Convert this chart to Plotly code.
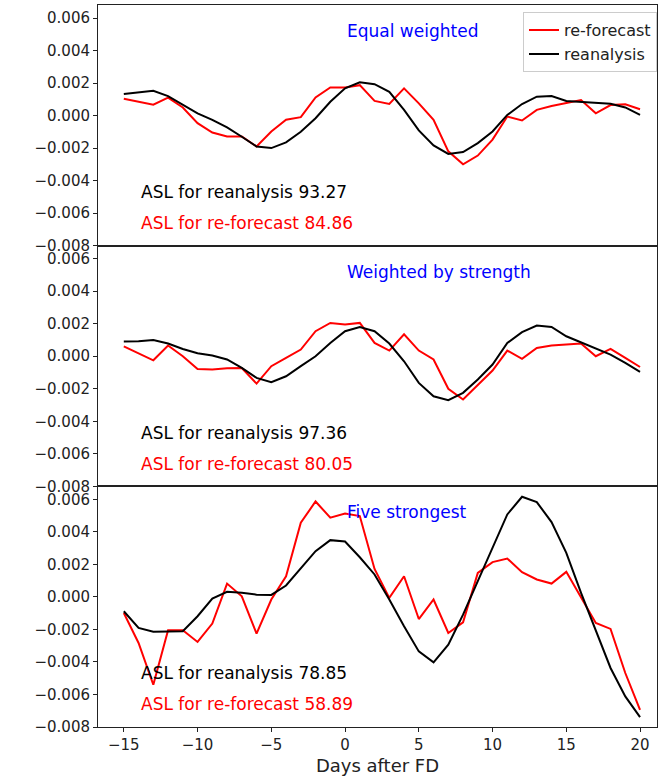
import plotly.graph_objects as go
from plotly.subplots import make_subplots

days = list(range(-15, 21))

# Panel 1: Equal weighted
eq_reanalysis = [0.00132, 0.00142, 0.00152, 0.00120, 0.00065, 0.00014, -0.00026, -0.00073, -0.00130, -0.00190,
                 -0.00200, -0.00165, -0.00100, -0.00016, 0.00085, 0.00168, 0.00205, 0.00193, 0.00146, 0.00035,
                 -0.00091, -0.00183, -0.00236, -0.00224, -0.00169, -0.00098, 0.00004, 0.00071, 0.00116, 0.00120,
                 0.00090, 0.00085, 0.00079, 0.00073, 0.00050, 0.00004]
eq_reforecast = [0.00104, 0.00085, 0.00067, 0.00110, 0.00050, -0.00047, -0.00104, -0.00128, -0.00128, -0.00190,
                 -0.00098, -0.00026, -0.00010, 0.00112, 0.00173, 0.00173, 0.00187, 0.00090, 0.00071, 0.00167,
                 0.00075, -0.00026, -0.00220, -0.00300, -0.00246, -0.00148, -0.00006, -0.00030, 0.00035, 0.00059,
                 0.00079, 0.00096, 0.00014, 0.00065, 0.00069, 0.00039]

# Panel 2: Weighted by strength
ws_reanalysis = [0.00090, 0.00092, 0.00100, 0.00078, 0.00045, 0.00018, 0.00004, -0.00020, -0.00072, -0.00133,
                 -0.00160, -0.00123, -0.00061, 0.00000, 0.00082, 0.00154, 0.00180, 0.00154, 0.00078, -0.00031,
                 -0.00164, -0.00246, -0.00270, -0.00225, -0.00143, -0.00051, 0.00082, 0.00148, 0.00189, 0.00180,
                 0.00123, 0.00086, 0.00051, 0.00010, -0.00041, -0.00096]
ws_reforecast = [0.00061, 0.00020, -0.00025, 0.00066, 0.00000, -0.00078, -0.00082, -0.00074, -0.00072, -0.00168,
                 -0.00061, -0.00010, 0.00041, 0.00154, 0.00205, 0.00195, 0.00205, 0.00082, 0.00035, 0.00135,
                 0.00035, -0.00020, -0.00200, -0.00266, -0.00174, -0.00088, 0.00035, -0.00016, 0.00051, 0.00066,
                 0.00072, 0.00078, 0.00000, 0.00045, -0.00010, -0.00066]

# Panel 3: Five strongest
fs_reanalysis = [-0.00088, -0.00191, -0.00214, -0.00214, -0.00211, -0.00119, -0.00010, 0.00031, 0.00025, 0.00014,
                 0.00012, 0.00070, 0.00179, 0.00281, 0.00349, 0.00341, 0.00244, 0.00138, -0.00016, -0.00181,
                 -0.00335, -0.00402, -0.00294, -0.00109, 0.00097, 0.00302, 0.00507, 0.00616, 0.00583, 0.00460,
                 0.00271, 0.00025, -0.00211, -0.00437, -0.00612, -0.00739]
fs_reforecast = [-0.00099, -0.00283, -0.00540, -0.00205, -0.00205, -0.00277, -0.00164, 0.00082, 0.00004, -0.00226,
                 -0.00016, 0.00127, 0.00456, 0.00587, 0.00487, 0.00513, 0.00497, 0.00172, -0.00006, 0.00127,
                 -0.00136, -0.00016, -0.00222, -0.00156, 0.00148, 0.00214, 0.00236, 0.00152, 0.00107, 0.00082,
                 0.00154, -0.00006, -0.00160, -0.00197, -0.00468, -0.00694]

panel_titles = ["Equal weighted", "Weighted by strength", "Five strongest"]
asl_reanalysis = ["93.27", "97.36", "78.85"]
asl_reforecast = ["84.86", "80.05", "58.89"]

y_tickvals = [0.006, 0.004, 0.002, 0.0, -0.002, -0.004, -0.006, -0.008]
y_ticktext = ["0.006", "0.004", "0.002", "0.000", "\u22120.002", "\u22120.004", "\u22120.006", "\u22120.008"]
x_tickvals = [-15, -10, -5, 0, 5, 10, 15, 20]
x_ticktext = ["\u221215", "\u221210", "\u22125", "0", "5", "10", "15", "20"]

FONT = "DejaVu Sans"
RED = "#ff0000"
BLACK = "#000000"

fig = make_subplots(rows=3, cols=1, shared_xaxes=True, vertical_spacing=0)

panels = [(eq_reforecast, eq_reanalysis), (ws_reforecast, ws_reanalysis), (fs_reforecast, fs_reanalysis)]
for i, (rf, ra) in enumerate(panels):
    row = i + 1
    fig.add_trace(go.Scatter(x=days, y=rf, mode="lines", name="re-forecast",
                             line=dict(color=RED, width=2), showlegend=(i == 0)), row=row, col=1)
    fig.add_trace(go.Scatter(x=days, y=ra, mode="lines", name="reanalysis",
                             line=dict(color=BLACK, width=2), showlegend=(i == 0)), row=row, col=1)
    xref = "x" if row == 1 else f"x{row}"
    yref = "y" if row == 1 else f"y{row}"
    fig.add_annotation(x=0, y=0.0052, xref=xref, yref=yref, text=panel_titles[i], showarrow=False,
                       xanchor="left", yanchor="middle", font=dict(family=FONT, size=17, color="#0000ff"))
    fig.add_annotation(x=-14, y=-0.0047, xref=xref, yref=yref, text="ASL for reanalysis " + asl_reanalysis[i],
                       showarrow=False, xanchor="left", yanchor="middle", font=dict(family=FONT, size=17, color=BLACK))
    fig.add_annotation(x=-14, y=-0.0066, xref=xref, yref=yref, text="ASL for re-forecast " + asl_reforecast[i],
                       showarrow=False, xanchor="left", yanchor="middle", font=dict(family=FONT, size=17, color=RED))
    fig.update_yaxes(range=[-0.008, 0.0068], tickvals=y_tickvals, ticktext=y_ticktext,
                     ticks="outside", ticklen=4, tickwidth=1, tickcolor="#222",
                     showline=True, linecolor="#222", linewidth=1, mirror=True,
                     showgrid=False, zeroline=False,
                     tickfont=dict(family=FONT, size=15, color="#222"), row=row, col=1)
    fig.update_xaxes(range=[-16.75, 21.15], tickvals=x_tickvals, ticktext=x_ticktext,
                     showline=True, linecolor="#222", linewidth=1, mirror=True,
                     showgrid=False, zeroline=False,
                     ticks="outside" if row == 3 else "", ticklen=4, tickwidth=1, tickcolor="#222",
                     showticklabels=(row == 3),
                     tickfont=dict(family=FONT, size=15, color="#222"), row=row, col=1)

fig.update_xaxes(title=dict(text="Days after FD", font=dict(family=FONT, size=18, color="#222"), standoff=6),
                 row=3, col=1)

fig.add_annotation(x=17, y=366, xref="paper", yref="paper", text="Cloud cover variation", textangle=-90,
                   showarrow=False, font=dict(family=FONT, size=18, color="#222"))

fig.update_layout(
    width=661, height=780,
    margin=dict(l=98, r=4, t=5, b=53),
    paper_bgcolor="white", plot_bgcolor="white",
    font=dict(family=FONT, color="#222"),
    legend=dict(x=1.0, xanchor="right", y=0.99, yanchor="top",
                bgcolor="white", bordercolor="#cccccc", borderwidth=1,
                font=dict(family=FONT, size=16, color="#222"), tracegroupgap=0),
    showlegend=True,
)

fig.write_html("out.html", config={"displayModeBar": False},
               post_script="document.body.style.margin='0';document.body.style.overflow='hidden';")
